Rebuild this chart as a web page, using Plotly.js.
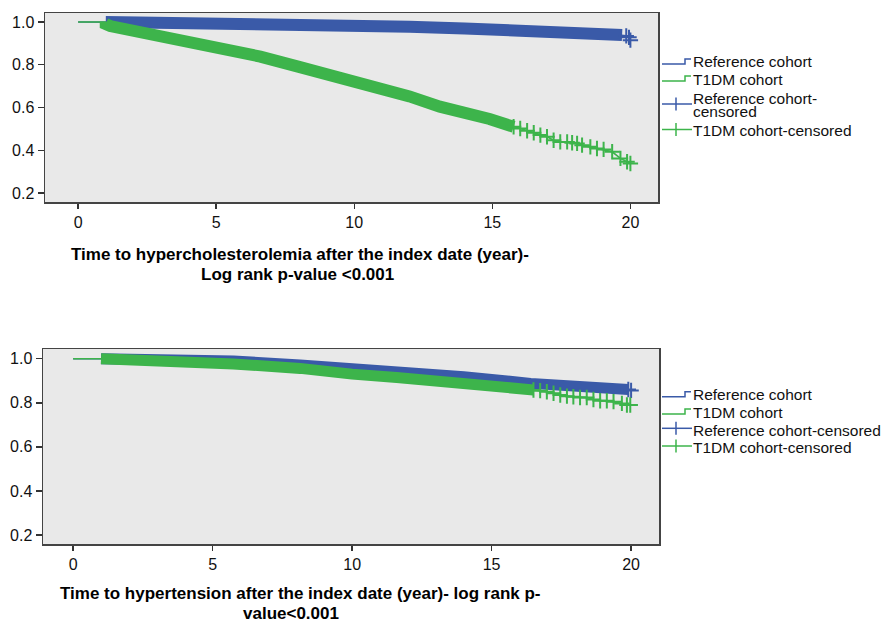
<!DOCTYPE html>
<html>
<head>
<meta charset="utf-8">
<script src="https://cdn.plot.ly/plotly-3.0.1.min.js"></script>
<style>
  html, body { margin: 0; padding: 0; background: #ffffff; }
  #chart { width: 884px; height: 622px; }
</style>
</head>
<body>
<div id="chart"></div>
<script>
// Kaplan-Meier survival estimates, time in years since the index date.

// Panel 1: hypercholesterolemia
const refTimeChol  = [0, 1, 3, 5, 8, 10, 12, 14, 16, 18, 19, 19.7, 19.85, 19.95, 20.0];
const refSurvChol  = [1.0, 1.0, 0.998, 0.996, 0.99, 0.986, 0.978, 0.97, 0.962, 0.951, 0.946, 0.939, 0.935, 0.928, 0.915];
const refDenseEndChol = 19.7;                     // censoring marks merge into a band up to here
const refCensorChol = [19.85, 19.95, 20.0];

const t1dmTimeChol = [0, 1, 1, 1.16, 2, 3, 4.17, 5, 6.6, 8, 9, 10.2, 11.3, 12, 13.1, 14, 14.9,
                      15.77, 16.01, 16.26, 16.5, 16.74, 16.98, 17.22, 17.46, 17.71, 17.89, 18.07,
                      18.25, 18.55, 18.79, 19.03, 19.34, 19.64, 19.88, 20.0];
const t1dmSurvChol = [1.0, 1.0, 0.99, 0.981, 0.96, 0.937, 0.909, 0.886, 0.838, 0.79, 0.756, 0.721, 0.68, 0.652, 0.604, 0.578, 0.546,
                      0.51, 0.502, 0.491, 0.482, 0.471, 0.463, 0.447, 0.439, 0.439, 0.435, 0.432,
                      0.424, 0.416, 0.408, 0.404, 0.393, 0.362, 0.346, 0.338];
const t1dmDenseEndChol = 15.77;
const t1dmCensorChol = [15.77, 16.01, 16.26, 16.5, 16.74, 16.98, 17.22, 17.46, 17.71, 17.89, 18.07,
                        18.25, 18.55, 18.79, 19.03, 19.34, 19.64, 19.88, 20.0];

// Panel 2: hypertension
const refTimeHtn  = [0, 1, 3.36, 5.75, 8.14, 10, 11.6, 14, 16.4, 18.8, 19.9, 20.0];
const refSurvHtn  = [1.0, 1.0, 0.996, 0.99, 0.971, 0.958, 0.944, 0.918, 0.888, 0.865, 0.86, 0.856];
const refDenseEndHtn = 19.9;
const refCensorHtn = [19.9, 20.0];

const t1dmTimeHtn = [0, 1, 1, 3.36, 5.75, 8.14, 9.2, 10, 11.6, 14, 15.2,
                     16.5, 16.74, 16.98, 17.22, 17.46, 17.7, 17.93, 18.17, 18.41, 18.65, 18.89,
                     19.13, 19.37, 19.67, 19.85, 19.97];
const t1dmSurvHtn = [1.0, 1.0, 1.0, 0.99, 0.976, 0.956, 0.937, 0.93, 0.915, 0.886, 0.869,
                     0.858, 0.855, 0.85, 0.843, 0.835, 0.83, 0.827, 0.824, 0.824, 0.815, 0.809,
                     0.809, 0.805, 0.797, 0.79, 0.79];
const t1dmDenseEndHtn = 16.5;
const t1dmCensorHtn = [16.5, 16.74, 16.98, 17.22, 17.46, 17.7, 17.93, 18.17, 18.41, 18.65, 18.89,
                       19.13, 19.37, 19.67, 19.85, 19.97];

const xTicks = [0, 5, 10, 15, 20];
const yTicks = [0.2, 0.4, 0.6, 0.8, 1.0];

const legendLabels = ['Reference cohort', 'T1DM cohort', 'Reference cohort-censored', 'T1DM cohort-censored'];
const titleCholLines = ['Time to hypercholesterolemia after the index date (year)-', 'Log rank p-value &lt;0.001'];
const titleHtnLines  = ['Time to hypertension after the index date (year)- log rank p-', 'value&lt;0.001'];

// ---- styling ----
const W = 884, H = 622;
const px = x => x / W;
const py = y => 1 - y / H;
const BLUE = '#3a5aa8';
const GREEN = '#3db44b';
const FONT = 'Liberation Sans, Arial, Helvetica, sans-serif';

function kmTraces(time, surv, denseEnd, censorT, color, xa, ya, bandWidth) {
  const bandX = [], bandY = [];
  time.forEach((t, i) => { if (t >= 1 && t <= denseEnd) { bandX.push(t); bandY.push(surv[i]); } });
  return [
    { x: time, y: surv, xaxis: xa, yaxis: ya, mode: 'lines', hoverinfo: 'skip',
      line: { color: color, width: 1.6 } },
    { x: bandX, y: bandY, xaxis: xa, yaxis: ya, mode: 'lines', hoverinfo: 'skip',
      line: { color: color, width: bandWidth } },
    { x: censorT, y: censorT.map(t => surv[time.indexOf(t)]), xaxis: xa, yaxis: ya,
      mode: 'markers', hoverinfo: 'skip',
      marker: { symbol: 'cross-thin-open', size: 11, color: color, line: { color: color, width: 2 } } }
  ];
}

const data = [].concat(
  kmTraces(refTimeChol, refSurvChol, refDenseEndChol, refCensorChol, BLUE, 'x', 'y', 12),
  kmTraces(t1dmTimeChol, t1dmSurvChol, t1dmDenseEndChol, t1dmCensorChol, GREEN, 'x', 'y', 12),
  kmTraces(refTimeHtn, refSurvHtn, refDenseEndHtn, refCensorHtn, BLUE, 'x2', 'y2', 11),
  kmTraces(t1dmTimeHtn, t1dmSurvHtn, t1dmDenseEndHtn, t1dmCensorHtn, GREEN, 'x2', 'y2', 11)
);

function xAxis(domain, range, anchor) {
  return {
    domain: domain, range: range, anchor: anchor, tickvals: xTicks, ticks: 'outside', ticklen: 5, tickwidth: 1.5,
    tickcolor: '#333', showline: true, mirror: true, linecolor: '#444', linewidth: 1.5,
    showgrid: false, zeroline: false, fixedrange: true,
    tickfont: { family: FONT, size: 16, color: '#111' }
  };
}
function yAxis(domain, range, anchor) {
  return {
    domain: domain, range: range, anchor: anchor, tickvals: yTicks, tickformat: '.1f', ticks: 'outside', ticklen: 6,
    tickwidth: 1.5, tickcolor: '#333', showline: true, mirror: true, linecolor: '#444', linewidth: 1.5,
    showgrid: false, zeroline: false, fixedrange: true,
    tickfont: { family: FONT, size: 16, color: '#111' }
  };
}

// Legend block: text rows plus step and cross glyphs drawn as paper shapes
function legendBlock(rowsY, labelRows, stepY, crossY) {
  const ann = [], shp = [];
  labelRows.forEach((txt, i) => {
    ann.push({ xref: 'paper', yref: 'paper', x: px(692), y: py(rowsY[i]), xanchor: 'left', yanchor: 'middle',
      text: txt, showarrow: false, borderpad: 0, font: { family: FONT, size: 15.5, color: '#111' } });
  });
  [[stepY[0], BLUE], [stepY[1], GREEN]].forEach(([y, c]) => {
    shp.push({ type: 'path', xref: 'paper', yref: 'paper', line: { color: c, width: 1.5 },
      path: `M ${px(662)} ${py(y + 2.5)} L ${px(685)} ${py(y + 2.5)} L ${px(685)} ${py(y - 2.5)} L ${px(691)} ${py(y - 2.5)}` });
  });
  [[crossY[0], BLUE], [crossY[1], GREEN]].forEach(([y, c]) => {
    shp.push({ type: 'line', xref: 'paper', yref: 'paper', x0: px(662), x1: px(692), y0: py(y), y1: py(y),
      line: { color: c, width: 1.5 } });
    shp.push({ type: 'line', xref: 'paper', yref: 'paper', x0: px(676), x1: px(676), y0: py(y - 6.5), y1: py(y + 6.5),
      line: { color: c, width: 1.5 } });
  });
  return { ann, shp };
}

const legTop = legendBlock([61.7, 79.3, 98.3, 111.9, 130.7],
  [legendLabels[0], legendLabels[1], 'Reference cohort-', 'censored', legendLabels[3]],
  [61.5, 78.5], [104, 129.5]);
const legBot = legendBlock([394, 412.3, 430, 447.7],
  legendLabels, [394.2, 411.5], [428.3, 446]);

// Axis titles: one annotation per line
function titleLines(lines, xs, ys) {
  return lines.map((t, i) => ({
    xref: 'paper', yref: 'paper', x: px(xs[i]), y: py(ys[i]), xanchor: 'center', yanchor: 'middle',
    text: '<b>' + t + '</b>', showarrow: false, borderpad: 0,
    font: { family: FONT, size: 17, color: '#000' }
  }));
}

const layout = {
  width: W, height: H,
  margin: { l: 0, r: 0, t: 0, b: 0, pad: 0 },
  paper_bgcolor: '#ffffff',
  plot_bgcolor: '#e9e9e9',
  showlegend: false,
  xaxis: xAxis([px(45), px(658)], [-1.2, 21.0], 'y'),
  yaxis: yAxis([py(202), py(13)], [0.158, 1.042], 'x'),
  xaxis2: xAxis([px(43), px(659)], [-1.08, 21.0], 'y2'),
  yaxis2: yAxis([py(544), py(349)], [0.159, 1.044], 'x2'),
  annotations: [].concat(
    titleLines(titleCholLines, [300, 297], [254, 274]),
    titleLines(titleHtnLines, [300, 291], [593, 613]),
    legTop.ann, legBot.ann),
  shapes: [].concat(legTop.shp, legBot.shp)
};

Plotly.newPlot('chart', data, layout, { displayModeBar: false, staticPlot: true });
</script>
</body>
</html>
